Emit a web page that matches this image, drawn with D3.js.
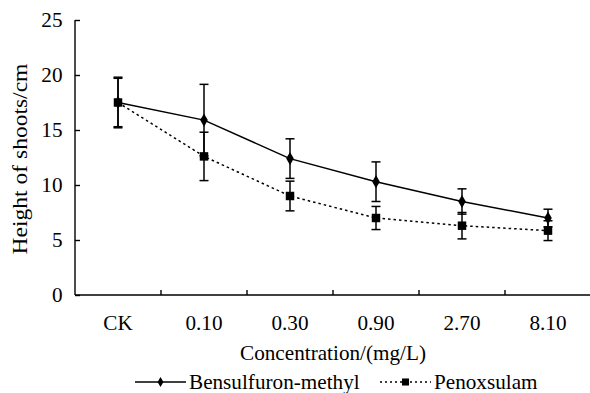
<!DOCTYPE html>
<html lang="en">
<head>
<meta charset="utf-8">
<title>Height of shoots</title>
<script src="https://d3js.org/d3.v7.min.js"></script>
<style>
  body { margin: 0; background: #fff; }
  .axis path, .axis line { stroke: #000; stroke-width: 1.4px; }
</style>
</head>
<body>
<script>
const categories = ["CK", "0.10", "0.30", "0.90", "2.70", "8.10"];
const bensulfuron = [17.5, 15.9, 12.4, 10.3, 8.5, 7.0];
const bensulfuronErr = [2.3, 3.25, 1.8, 1.8, 1.15, 0.8];
const penoxsulam = [17.5, 12.6, 9.0, 7.0, 6.3, 5.85];
const penoxsulamErr = [2.2, 2.2, 1.35, 1.05, 1.2, 0.9];
const yTicks = [0, 5, 10, 15, 20, 25];

const FONT = "'Liberation Serif'";
const SX = 1.06; // reference glyphs are a bit wide
const w = 590, h = 393;
const svg = d3.select("body").append("svg").attr("width", w).attr("height", h);

const x = d3.scaleBand().domain(categories).range([75, 591]);
const y = d3.scaleLinear().domain([0, 25]).range([295, 20]);

// y axis, ticks inside
const yAxis = svg.append("g").attr("class", "axis")
  .attr("transform", "translate(75,0)")
  .call(d3.axisLeft(y).tickValues(yTicks).tickSizeInner(-5).tickSizeOuter(0).tickPadding(12));
yAxis.select(".domain").attr("d", "M0,20V295");
yAxis.selectAll("text")
  .attr("x", -12.5 / SX)
  .attr("transform", `scale(${SX},1)`);

// x axis, ticks between categories pointing up
const xAxis = svg.append("g").attr("class", "axis")
  .attr("transform", "translate(0,295)")
  .call(d3.axisBottom(x).tickSize(0));
xAxis.select(".domain").attr("d", "M75,0H591");
xAxis.selectAll("text").attr("y", 35).attr("dy", 0)
  .attr("transform", `scale(${SX},1)`);
xAxis.selectAll(".sep").data(categories.slice(1))
  .join("line").attr("class", "sep")
  .attr("x1", d => x(d)).attr("x2", d => x(d))
  .attr("y1", 0).attr("y2", -5);

svg.selectAll(".axis text")
  .style("font-family", FONT).style("font-size", "20px").attr("fill", "#000");

svg.append("text")
  .attr("transform", "translate(27,159) rotate(-90) scale(1.07,1)")
  .attr("text-anchor", "middle")
  .style("font-family", FONT).style("font-size", "22px")
  .text("Height of shoots/cm");

svg.append("text")
  .attr("transform", `translate(333,360) scale(${SX},1)`)
  .attr("text-anchor", "middle")
  .style("font-family", FONT).style("font-size", "20px")
  .text("Concentration/(mg/L)");

const cx = d => x(d) + x.bandwidth() / 2;
const line = d3.line().x((d, i) => cx(categories[i])).y(d => y(d));

const series = [
  {name: "Penoxsulam", vals: penoxsulam, err: penoxsulamErr, dash: "2.5,3", marker: "square"},
  {name: "Bensulfuron-methyl", vals: bensulfuron, err: bensulfuronErr, dash: null, marker: "diamond"}
];

series.forEach(s => {
  svg.append("path")
    .datum(s.vals)
    .attr("d", line)
    .attr("fill", "none")
    .attr("stroke", "#000")
    .attr("stroke-width", 1.5)
    .attr("stroke-dasharray", s.dash);

  const eb = svg.append("g");
  s.vals.forEach((v, i) => {
    const px = cx(categories[i]);
    const top = y(v + s.err[i]), bot = y(v - s.err[i]);
    eb.append("line").attr("x1", px).attr("x2", px).attr("y1", top).attr("y2", bot)
      .attr("stroke", "#000").attr("stroke-width", 1.5);
    [top, bot].forEach(yy => eb.append("line")
      .attr("x1", px - 4.5).attr("x2", px + 4.5).attr("y1", yy).attr("y2", yy)
      .attr("stroke", "#000").attr("stroke-width", 1.5));
  });

  const sym = s.marker === "square" ? d3.symbolSquare : d3.symbolDiamond;
  const size = s.marker === "square" ? 72 : 50;
  svg.append("g").selectAll("path").data(s.vals).join("path")
    .attr("transform", (d, i) => `translate(${cx(categories[i])},${y(d)})`)
    .attr("d", d3.symbol(sym, size))
    .attr("fill", "#000");
});

// legend
const legend = [
  {name: "Bensulfuron-methyl", x: 135, dash: null, sym: d3.symbolDiamond, size: 30},
  {name: "Penoxsulam", x: 380, dash: "2,3", sym: d3.symbolSquare, size: 50}
];
legend.forEach(l => {
  const g = svg.append("g").attr("transform", `translate(${l.x},382)`);
  g.append("line").attr("x1", 0).attr("x2", 51).attr("y1", 0).attr("y2", 0)
    .attr("stroke", "#000").attr("stroke-width", 1.5).attr("stroke-dasharray", l.dash);
  g.append("path").attr("transform", "translate(25.5,0)").attr("d", d3.symbol(l.sym, l.size)).attr("fill", "#000");
  g.append("text").attr("transform", `translate(54,7) scale(${SX},1)`)
    .style("font-family", FONT).style("font-size", "20px").text(l.name);
});
</script>
</body>
</html>
